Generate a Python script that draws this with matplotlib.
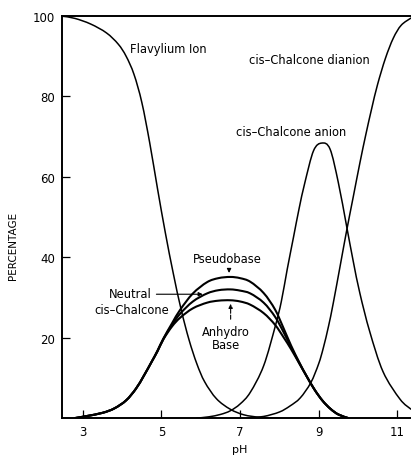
import numpy as np
import matplotlib
matplotlib.use("Agg")
from matplotlib import pyplot as plt
from matplotlib.path import Path
from matplotlib.patches import PathPatch

plt.rcParams["font.family"] = ["DejaVu Sans"]

# values (pH, percentage)
flav_ph = [2.47, 2.8, 3.2, 3.6, 3.9, 4.1, 4.3, 4.5, 4.7, 4.9, 5.1, 5.3, 5.5,
           5.7, 5.9, 6.1, 6.4, 6.75, 7.1, 7.5, 8.0]
flav = [100, 99.4, 98.0, 95.8, 93, 90, 85.5, 78.5, 68.5, 57, 46, 36, 27,
        19.5, 13.5, 9, 4.8, 2.2, 0.8, 0.2, 0]

neut_ph = [2.8, 3.1, 3.5, 3.8, 4.1, 4.35, 4.55, 4.75, 4.9, 5.05, 5.27, 5.48, 5.8,
           6.16, 6.45, 6.75, 7.0, 7.26, 7.6, 7.89, 8.1, 8.3, 8.5, 8.7, 8.9, 9.1, 9.3, 9.5, 9.75]
pseudo = [0, 0.5, 1.3, 2.4, 4.4, 7.3, 10.5, 14, 16.8, 19.8, 23.6, 27, 31,
          33.8, 34.8, 35.1, 34.8, 33.9, 31.1, 27, 22.5, 18, 14, 10.3, 7, 4.3, 2.3, 0.9, 0]
neutral = [0, 0.5, 1.3, 2.4, 4.4, 7.3, 10.5, 14, 16.7, 19.7, 23.2, 26, 29,
           31, 31.8, 32, 31.7, 31.0, 28.7, 25.2, 21.5, 17.6, 13.8, 10.3, 7, 4.3, 2.3, 0.9, 0]
anhydro = [0, 0.5, 1.3, 2.4, 4.4, 7.3, 10.5, 14, 16.6, 19.6, 22.8, 25, 27.3,
           28.7, 29.2, 29.3, 29.0, 28.2, 26.1, 23.2, 20.2, 17.1, 13.7, 10.3, 7, 4.3, 2.3, 0.9, 0]

anion_ph = [5.9, 6.2, 6.5, 6.75, 7.0, 7.26, 7.6, 7.9, 8.05, 8.2, 8.36, 8.5, 8.65, 8.87,
            9.08, 9.29, 9.5, 9.71, 9.88, 10.05, 10.3, 10.64, 11.07, 11.35]
anion = [0, 0.3, 0.9, 1.8, 3.5, 6.4, 13, 23, 29, 37, 45, 52, 58.6, 66.5,
         68.4, 66.9, 58.6, 47.8, 39, 31, 21.5, 11.5, 4.7, 2.2]

dian_ph = [7.2, 7.6, 8.0, 8.27, 8.53, 8.8, 9.0, 9.12, 9.25, 9.37, 9.55, 9.71, 9.88, 10.05,
           10.2, 10.35, 10.5, 10.7, 10.9, 11.1, 11.35]
dianion = [0, 0.4, 1.5, 3, 5, 8.8, 13.5, 17.5, 22.8, 28.5, 38, 46.5, 55, 63.5,
           70.5, 77, 83, 89.5, 94.5, 97.7, 99.5]

x_ticks = [3, 5, 7, 9, 11]
y_ticks = [20, 40, 60, 80, 100]


def smooth_curve(ax, xs, ys, lw):
    # catmull-rom through the read points, drawn as bezier segments
    pts = np.column_stack([xs, ys]).astype(float)
    verts = [pts[0]]
    codes = [Path.MOVETO]
    n = len(pts)
    for i in range(n - 1):
        p0 = pts[max(i - 1, 0)]
        p1 = pts[i]
        p2 = pts[i + 1]
        p3 = pts[min(i + 2, n - 1)]
        verts += [p1 + (p2 - p0) / 6, p2 - (p3 - p1) / 6, p2]
        codes += [Path.CURVE4] * 3
    ax.add_patch(PathPatch(Path(verts, codes), facecolor="none",
                           edgecolor="black", lw=lw, capstyle="round",
                           joinstyle="round"))


fig = plt.figure(figsize=(4.11, 4.6), dpi=100)
ax = fig.add_axes([0.151, 0.089, 0.849, 0.874])

smooth_curve(ax, flav_ph, flav, 1.1)
smooth_curve(ax, neut_ph, pseudo, 1.5)
smooth_curve(ax, neut_ph, neutral, 1.5)
smooth_curve(ax, neut_ph, anhydro, 1.5)
smooth_curve(ax, anion_ph, anion, 1.1)
smooth_curve(ax, dian_ph, dianion, 1.1)

ax.set_xlim(2.47, 11.35)
ax.set_ylim(0, 100)
ax.set_xticks(x_ticks)
ax.set_yticks(y_ticks)
ax.tick_params(direction="in", length=6, width=0.9, labelsize=8.5, pad=5)
ax.spines["right"].set_visible(False)
for s in ["left", "bottom", "top"]:
    ax.spines[s].set_linewidth(1.4)

ax.set_xlabel("pH", fontsize=8)
ax.xaxis.set_label_coords(0.51, -0.065)
ax.set_ylabel("PERCENTAGE", fontsize=7.5)
ax.yaxis.set_label_coords(-0.125, 0.43)

tfs = 8.3
ax.text(4.2, 91.8, "Flavylium Ion", fontsize=tfs, va="center")
ax.text(7.22, 89.3, "cis\u2013Chalcone dianion", fontsize=tfs, va="center")
ax.text(6.89, 71.4, "cis\u2013Chalcone anion", fontsize=tfs, va="center")
ax.text(6.68, 39.6, "Pseudobase", fontsize=tfs, ha="center", va="center")
ax.annotate("", xy=(6.72, 35.4), xytext=(6.72, 37.8),
            arrowprops=dict(arrowstyle="-|>", color="black", lw=0.8, mutation_scale=6))
ax.text(4.2, 31.1, "Neutral", fontsize=tfs, ha="center", va="center")
ax.text(4.24, 27.1, "cis\u2013Chalcone", fontsize=tfs, ha="center", va="center")
ax.annotate("", xy=(6.12, 30.8), xytext=(4.8, 30.8),
            arrowprops=dict(arrowstyle="-|>", color="black", lw=0.8, mutation_scale=6))
ax.text(6.63, 21.6, "Anhydro", fontsize=tfs, ha="center", va="center")
ax.text(6.63, 18.4, "Base", fontsize=tfs, ha="center", va="center")
ax.annotate("", xy=(6.76, 29.1), xytext=(6.76, 23.9),
            arrowprops=dict(arrowstyle="-|>", color="black", lw=0.8, ls="--", mutation_scale=6))

fig.savefig("out.png", dpi=100)
